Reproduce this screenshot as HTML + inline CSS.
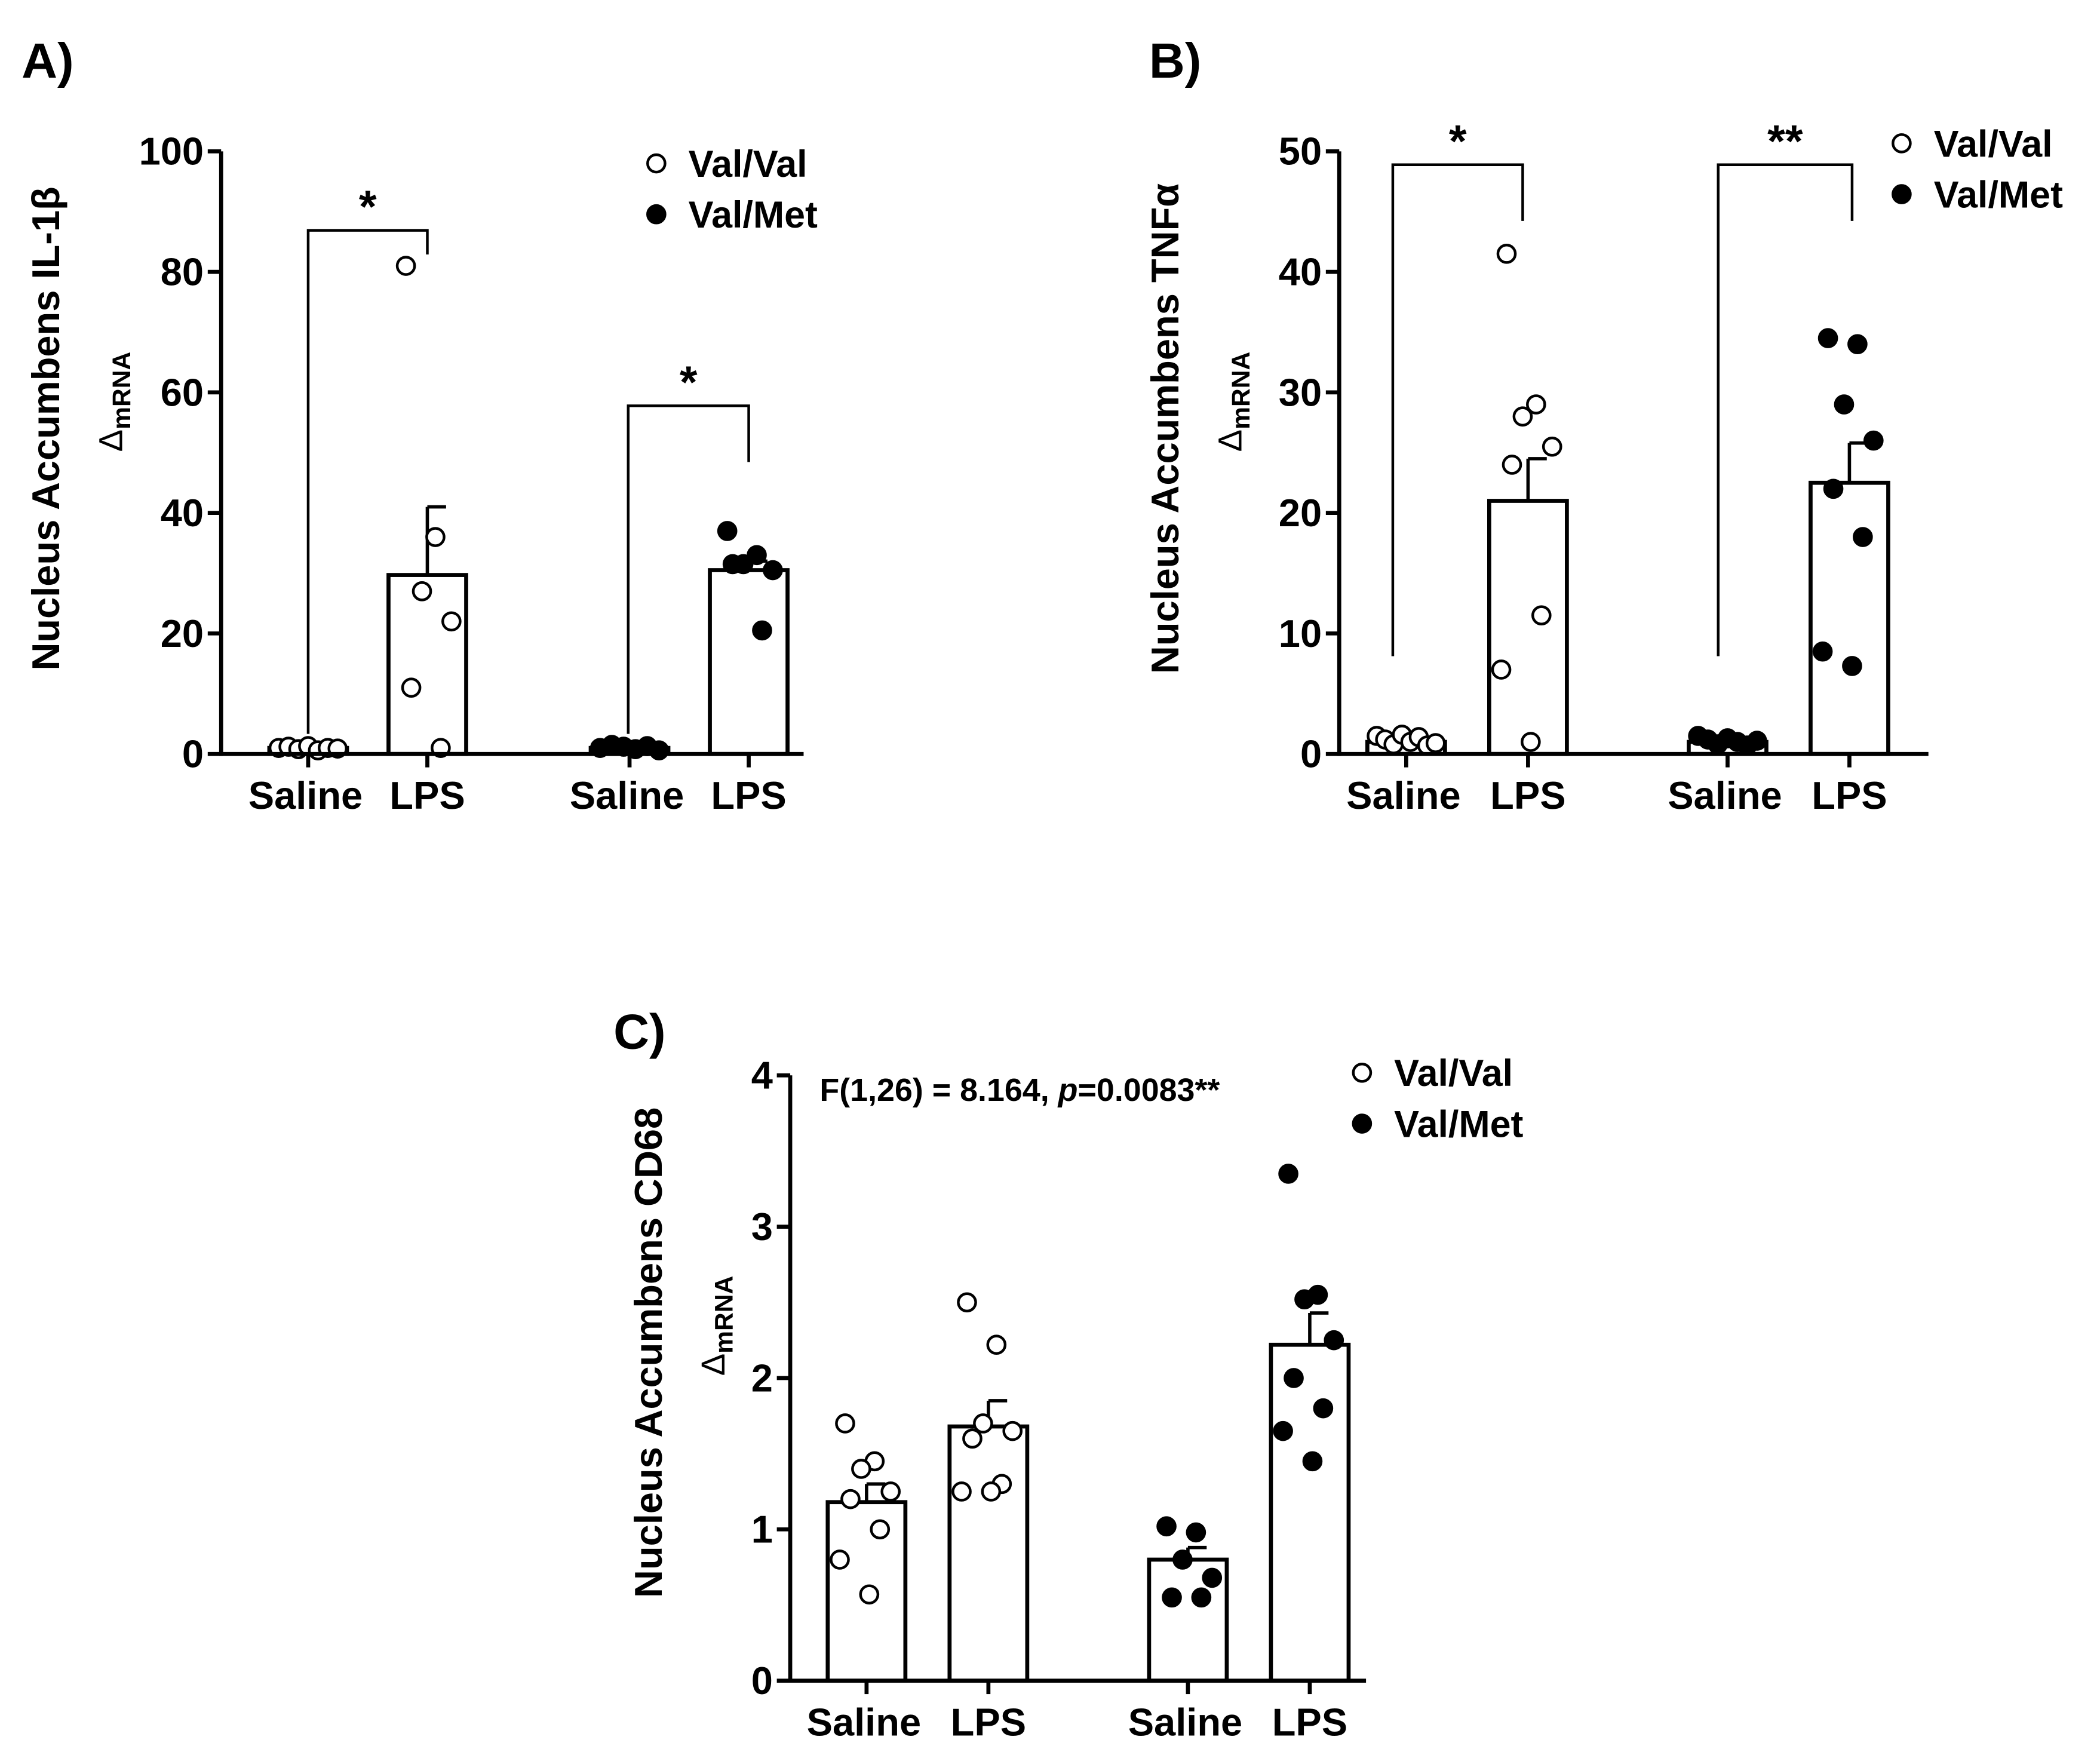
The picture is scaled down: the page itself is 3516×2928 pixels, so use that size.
<!DOCTYPE html>
<html><head><meta charset="utf-8"><style>
html,body{margin:0;padding:0;background:#fff}
svg{display:block}
text{font-family:"Liberation Sans",sans-serif;font-weight:bold;fill:#000}
</style></head><body>
<svg id="fig" width="3516" height="2928" viewBox="0 0 1568 1306" xmlns="http://www.w3.org/2000/svg"></svg>
<script>
// Panel A: IL-1beta
const aTicks=[0,20,40,60,80,100];
const aMeans=[1,29.7,1,30.5];
const aErr=[0.3,41,0.3,32];
const aPts=[[1,1.2,0.8,1.3,0.6,1,0.9],[81,36,27,22,11,1],[1,1.5,1.2,0.8,1.3,0.6],[37,33,31.5,30.5,31.5,20.5]];
// Panel B: TNF-alpha
const bTicks=[0,10,20,30,40,50];
const bMeans=[1,21,1,22.5];
const bErr=[1.2,24.5,1.2,25.8];
const bPts=[[1.5,1.2,0.8,1.6,1,1.4,0.7,0.9],[41.5,29,28,25.5,24,11.5,7,1],[1.5,1.2,0.8,1.3,1,0.7,1.1],[34.5,34,29,26,22,18,8.5,7.3]];
// Panel C: CD68
const cTicks=[0,1,2,3,4];
const cMeans=[1.18,1.68,0.8,2.22];
const cErr=[1.3,1.85,0.88,2.43];
const cPts=[[1.7,1.45,1.4,1.25,1.2,1.0,0.8,0.57],[2.5,2.22,1.7,1.65,1.6,1.3,1.25,1.25],[1.02,0.98,0.8,0.68,0.55,0.55],[3.35,2.55,2.52,2.25,2.0,1.8,1.65,1.45]];
const groups=['Saline','LPS','Saline','LPS'];
const fills=['#fff','#fff','#000','#000'];
const jit=[-16,6,-4,18,-12,10,-20,2];

const svg=document.getElementById('fig');
const NS='http://www.w3.org/2000/svg';
function el(tag,attrs,parent,txt){const e=document.createElementNS(NS,tag);for(const k in attrs)e.setAttribute(k,attrs[k]);if(txt!==undefined)e.textContent=txt;(parent||svg).appendChild(e);return e;}

function panel(cfg){
  const g=el('g',{});
  
  
  const max=cfg.ticks[cfg.ticks.length-1];
  const y=v=>cfg.y0-(v/max)*(cfg.y0-cfg.yTop);
  cfg.centers.forEach((cx,i)=>{
    const b=el('rect',{x:cx-29,y:y(cfg.means[i]),width:58,height:cfg.y0-y(cfg.means[i]),fill:'#fff',stroke:'#000','stroke-width':3},g);
    
    
    el('line',{x1:cx,x2:cx,y1:y(cfg.means[i]),y2:y(cfg.err[i]),stroke:'#000','stroke-width':2.5},g);
    el('line',{x1:cx,x2:cx+14,y1:y(cfg.err[i]),y2:y(cfg.err[i]),stroke:'#000','stroke-width':2.5},g);
    const pts=cfg.pts[i];
    pts.forEach((v,j)=>{
      const n=pts.length;
      const flat=cfg.flatSaline && i%2===0;
      const dx=flat?(n>1?(j-(n-1)/2)*(44/(n-1)):0):jit[j%jit.length];
      const c=el('circle',{cx:cx+dx,cy:y(v),r:6.5,fill:fills[i],stroke:'#000','stroke-width':2},g);
      
      
    });
    const t=el('text',{x:cx+(i%2===0?-2:0),y:cfg.y0+41,'font-size':29,'text-anchor':'middle'},g,groups[i]);
    
    
  });
  el('line',{x1:cfg.x0,x2:cfg.x0,y1:cfg.yTop,y2:cfg.y0+1.5,stroke:'#000','stroke-width':3},g);
  el('line',{x1:cfg.x0,x2:cfg.xEnd,y1:cfg.y0,y2:cfg.y0,stroke:'#000','stroke-width':3},g);
  cfg.ticks.forEach(t=>{
    el('line',{x1:cfg.x0-10,x2:cfg.x0,y1:y(t),y2:y(t),stroke:'#000','stroke-width':3},g);
    const tl=el('text',{x:cfg.x0-13,y:y(t)+10,'font-size':29,'text-anchor':'end'},g,String(t));
    
    
  });
  cfg.centers.forEach(cx=>el('line',{x1:cx,x2:cx,y1:cfg.y0,y2:cfg.y0+10,stroke:'#000','stroke-width':3},g));
  const yt=el('text',{transform:`translate(${cfg.titleX},${cfg.titleY}) rotate(-90)`,'font-size':29,'text-anchor':'middle'},g,cfg.title);
  
  
  const ys=el('text',{transform:`translate(${cfg.titleX+47},${cfg.titleY-20}) rotate(-90)`,'font-size':25,'font-weight':'normal','text-anchor':'middle'},g);
  
  
  el('tspan',{'font-weight':'normal'},ys,'Δ');
  el('tspan',{'font-size':19,dy:6},ys,'mRNA');
  const pl=el('text',{x:cfg.letterX,y:cfg.letterY,'font-size':37},g,cfg.letter);
  
  
  [['Val/Val','#fff'],['Val/Met','#000']].forEach((L,k)=>{
    const ly=cfg.legY+k*38;
    el('circle',{cx:cfg.legX,cy:ly,r:6.5,fill:L[1],stroke:'#000','stroke-width':2},g);
    const lt=el('text',{x:cfg.legX+24,y:ly+10,'font-size':28},g,L[0]);
    
    
  });
  (cfg.brackets||[]).forEach(bk=>{
    el('polyline',{points:`${bk.x1},${bk.yb1} ${bk.x1},${bk.yt} ${bk.x2},${bk.yt} ${bk.x2},${bk.yb2}`,fill:'none',stroke:'#000','stroke-width':2},g);
    const st=el('text',{x:(bk.x1+bk.x2)/2,y:bk.yt-6,'font-size':34,'text-anchor':'middle'},g,bk.star);
    
    
  });
  return g;
}

panel({name:'panel-a-il1b',ticks:aTicks,means:aMeans,err:aErr,pts:aPts,x0:165,xEnd:600,y0:563,yTop:113,flatSaline:true,
  centers:[230,319,470,559],title:'Nucleus Accumbens IL-1β',titleX:44,titleY:320,letter:'A)',letterX:16,letterY:58,
  legX:490,legY:122,brackets:[{x1:230,x2:319,yt:172,yb1:548,yb2:190,star:'*'},{x1:469,x2:559,yt:303,yb1:548,yb2:345,star:'*'}]});
panel({name:'panel-b-tnfa',ticks:bTicks,means:bMeans,err:bErr,pts:bPts,x0:1000,xEnd:1440,y0:563,yTop:113,flatSaline:true,
  centers:[1050,1141,1290,1381],title:'Nucleus Accumbens TNFα',titleX:880,titleY:320,letter:'B)',letterX:858,letterY:58,
  legX:1420,legY:107,brackets:[{x1:1040,x2:1137,yt:123,yb1:490,yb2:165,star:'*'},{x1:1283,x2:1383,yt:123,yb1:490,yb2:165,star:'**'}]});
panel({name:'panel-c-cd68',ticks:cTicks,means:cMeans,err:cErr,pts:cPts,x0:590,xEnd:1020,y0:1255,yTop:803,flatSaline:false,
  centers:[647,738,887,978],title:'Nucleus Accumbens CD68',titleX:494,titleY:1010,letter:'C)',letterX:458,letterY:783,
  legX:1017,legY:801});
const ann=el('text',{x:612,y:822,'font-size':24});


el('tspan',{},ann,'F(1,26) = 8.164, ');
el('tspan',{'font-style':'italic'},ann,'p');
el('tspan',{},ann,'=0.0083**');
</script>
</body></html>
